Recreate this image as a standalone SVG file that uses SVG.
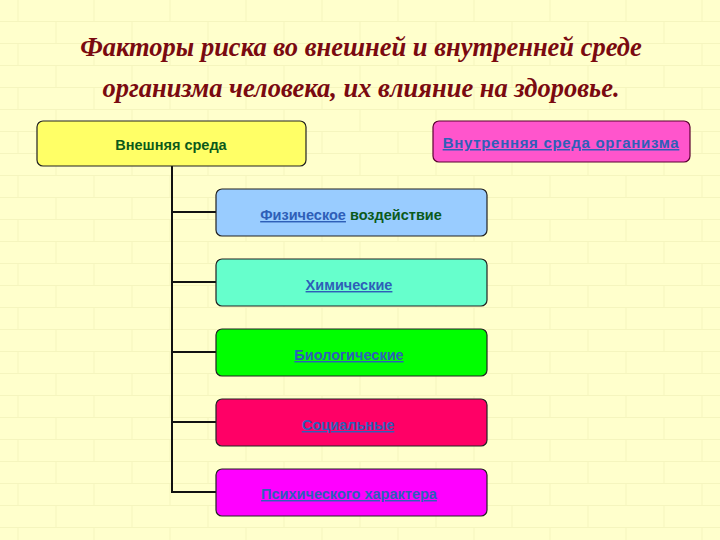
<svg xmlns="http://www.w3.org/2000/svg" width="720" height="540" viewBox="0 0 720 540">
<defs>
<pattern id="bricks" width="76" height="44" patternUnits="userSpaceOnUse">
<rect width="76" height="44" fill="#FFFFCC"/>
<path d="M0 21.5H76M0 43.5H76M18 0V22M56 22V44" stroke="#F5F5BE" stroke-width="1" fill="none"/>
</pattern>
<style>
.box{stroke:#222;stroke-width:1.2}
.lbl{font-family:"Liberation Sans",Arial,sans-serif;font-size:14.5px;font-weight:bold;text-anchor:middle}
.link{fill:#2E5FB8;text-decoration:underline}
.green{fill:#0B5A1A}
.title{font-family:"Liberation Serif","DejaVu Serif",serif;font-style:italic;font-weight:bold;font-size:26.5px;fill:#7A0A10;text-anchor:middle}
.conn{stroke:#111;stroke-width:2;fill:none}
</style>
</defs>
<rect width="720" height="540" fill="url(#bricks)"/>
<g id="title">
<text class="title" x="361" y="56">Факторы риска во внешней и внутренней среде</text>
<text class="title" x="361" y="97">организма человека, их влияние на здоровье.</text>
</g>
<g id="connectors">
<path class="conn" d="M172 166V493"/>
<path class="conn" d="M171 212H216M171 282H216M171 352H216M171 422H216M171 492H216"/>
</g>
<g id="node-vneshnyaya">
<rect class="box" x="37" y="121" width="269" height="45" rx="6" fill="#FFFF66"/>
<text class="lbl green" x="171" y="150">Внешняя среда</text>
</g>
<g id="node-vnutrennyaya">
<rect x="433" y="121" width="257" height="41" rx="6" fill="#FF55CC" stroke="#5A0030" stroke-width="1.2"/>
<text class="lbl link" x="561" y="148" style="font-size:15px;letter-spacing:0.7px">Внутренняя среда организма</text>
</g>
<g id="node-fizicheskoe">
<rect class="box" x="216" y="189" width="271" height="47" rx="6" fill="#99CCFF"/>
<text class="lbl" x="351" y="220"><tspan class="link">Физическое</tspan><tspan class="green"> воздействие</tspan></text>
</g>
<g id="node-himicheskie">
<rect class="box" x="216" y="259" width="271" height="47" rx="6" fill="#66FFCC"/>
<text class="lbl link" x="349" y="290">Химические</text>
</g>
<g id="node-biologicheskie">
<rect class="box" x="216" y="329" width="271" height="47" rx="6" fill="#00FF00"/>
<text class="lbl link" x="349" y="360">Биологические</text>
</g>
<g id="node-socialnye">
<rect class="box" x="216" y="399" width="271" height="47" rx="6" fill="#FF0066"/>
<text class="lbl link" x="348" y="430">Социальные</text>
</g>
<g id="node-psihicheskogo">
<rect class="box" x="216" y="469" width="271" height="47" rx="6" fill="#FF00FF"/>
<text class="lbl link" x="349" y="499">Психического характера</text>
</g>
</svg>
